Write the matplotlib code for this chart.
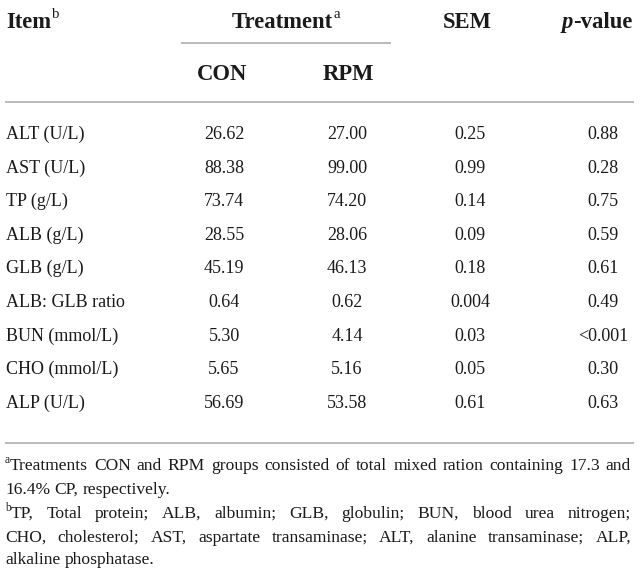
import matplotlib
matplotlib.use("Agg")
import matplotlib.pyplot as plt

# table content
items = ["ALT (U/L)", "AST (U/L)", "TP (g/L)", "ALB (g/L)", "GLB (g/L)",
         "ALB: GLB ratio", "BUN (mmol/L)", "CHO (mmol/L)", "ALP (U/L)"]
con = ["26.62", "88.38", "73.74", "28.55", "45.19", "0.64", "5.30", "5.65", "56.69"]
rpm = ["27.00", "99.00", "74.20", "28.06", "46.13", "0.62", "4.14", "5.16", "53.58"]
sem = ["0.25", "0.99", "0.14", "0.09", "0.18", "0.004", "0.03", "0.05", "0.61"]
pval = ["0.88", "0.28", "0.75", "0.59", "0.61", "0.49", "<0.001", "0.30", "0.63"]
groups = ["CON", "RPM"]

# footnotes, one entry per printed line: (marker, text, justified)
foot_lines = [
    ("a", "Treatments CON and RPM groups consisted of total mixed ration containing 17.3 and", True),
    ("", "16.4% CP, respectively.", False),
    ("b", "TP, Total protein; ALB, albumin; GLB, globulin; BUN, blood urea nitrogen;", True),
    ("", "CHO, cholesterol; AST, aspartate transaminase; ALT, alanine transaminase; ALP,", True),
    ("", "alkaline phosphatase.", False),
]

FONT = "Liberation Serif"
W, H = 641, 577
LINE_C = "#b4b4b4"
TXT_C = "#1a1a1a"

fig = plt.figure(figsize=(W / 100, H / 100), dpi=100)
ax = fig.add_axes([0, 0, 1, 1])
ax.set_xlim(0, W)
ax.set_ylim(H, 0)
ax.axis("off")
renderer = fig.canvas.get_renderer()


def width(t):
    return t.get_window_extent(renderer).width


def runs(x, y, parts, size, ha="left"):
    # parts: (text, weight, style, is_sup)
    objs = []
    for txt, wt, st, sup in parts:
        fs = size * 0.66 if sup else size
        dy = -size * 0.6 if sup else 0
        t = ax.text(0, y + dy, txt, fontsize=fs, fontfamily=FONT,
                    fontweight=wt, fontstyle=st, va="baseline", ha="left",
                    color=TXT_C)
        objs.append(t)
    ws = [width(t) for t in objs]
    total = sum(ws)
    x0 = x - total / 2 if ha == "center" else x
    for t, w in zip(objs, ws):
        t.set_x(x0)
        x0 += w + 0.5


HS = 16.3
BS = 13
FS = 12.6
col_x = [224, 347, 470, 603]

# header
runs(6, 28, [("Item", "bold", "normal", False), ("b", "normal", "normal", True)], HS)
runs(286, 28, [("Treatment", "bold", "normal", False), ("a", "normal", "normal", True)], HS, "center")
runs(467, 28, [("SEM", "bold", "normal", False)], HS, "center")
runs(597, 28, [("p", "bold", "italic", False), ("-value", "bold", "normal", False)], HS, "center")
ax.plot([181, 391], [43, 43], color=LINE_C, lw=1.3, solid_capstyle="butt")
for gx, g in zip([222, 348], groups):
    runs(gx, 80, [(g, "bold", "normal", False)], HS, "center")
ax.plot([5, 634], [102, 102], color=LINE_C, lw=1.3, solid_capstyle="butt")

# body rows
for i, name in enumerate(items):
    yb = 139 + i * 33.6
    runs(6, yb, [(name, "normal", "normal", False)], BS)
    for cx, vals in zip(col_x, [con, rpm, sem, pval]):
        runs(cx, yb, [(vals[i], "normal", "normal", False)], BS, "center")

ax.plot([5, 634], [443, 443], color=LINE_C, lw=1.3, solid_capstyle="butt")

# footnotes (justified lines spread word by word)
foot_y = [469.5, 493.5, 517.5, 541.5, 564.5]
right = 631
sp_w = FS / 72 * 100 * 0.25
for (mark, txt, just), yb in zip(foot_lines, foot_y):
    x = 5
    if mark:
        m = ax.text(x, yb - FS * 0.55, mark, fontsize=FS * 0.66, fontfamily=FONT,
                    va="baseline", color=TXT_C)
        x += width(m)
    words = txt.split(" ")
    objs = [ax.text(0, yb, w, fontsize=FS, fontfamily=FONT, va="baseline",
                    color=TXT_C) for w in words]
    ws = [width(o) for o in objs]
    if just and len(words) > 1:
        gap = (right - x - sum(ws)) / (len(words) - 1)
    else:
        gap = sp_w
    for o, w in zip(objs, ws):
        o.set_x(x)
        x += w + gap

fig.savefig("out.png", dpi=100)
